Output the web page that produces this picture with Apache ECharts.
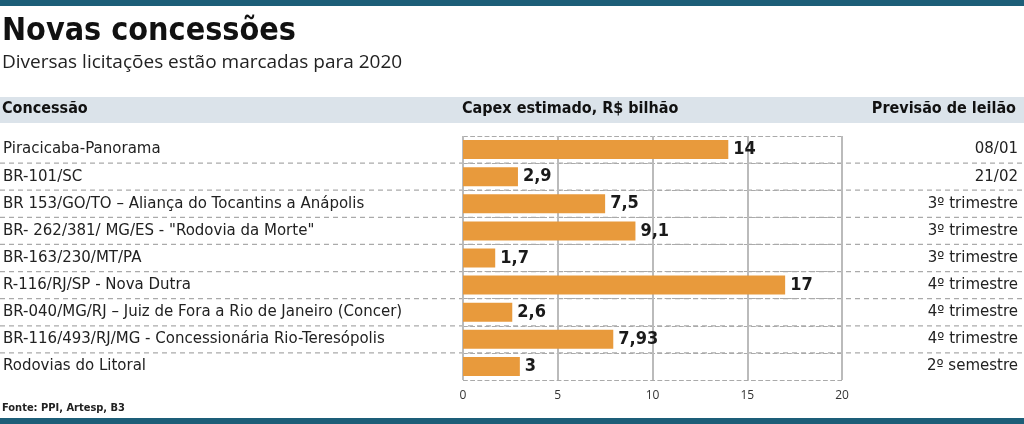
<!DOCTYPE html><html><head><meta charset="utf-8"><script src="https://cdn.jsdelivr.net/npm/echarts@6/dist/echarts.min.js"></script>
<style>body{margin:0}#c{width:1024px;height:424px}</style></head><body><div id="c"></div><script>
const categories=["Piracicaba-Panorama","BR-101/SC","BR 153/GO/TO – Aliança do Tocantins a Anápolis","BR- 262/381/ MG/ES - \"Rodovia da Morte\"","BR-163/230/MT/PA","R-116/RJ/SP - Nova Dutra","BR-040/MG/RJ – Juiz de Fora a Rio de Janeiro (Concer)","BR-116/493/RJ/MG - Concessionária Rio-Teresópolis","Rodovias do Litoral"];
const values=[14,2.9,7.5,9.1,1.7,17,2.6,7.93,3];
const valueLabels=["14","2,9","7,5","9,1","1,7","17","2,6","7,93","3"];
const dates=["08/01","21/02","3º trimestre","3º trimestre","3º trimestre","4º trimestre","4º trimestre","4º trimestre","2º semestre"];
const ticks=[0,5,10,15,20];
const ch=echarts.init(document.getElementById('c'));
const F='"Open Sans", sans-serif';
const D='"DejaVu Sans", sans-serif';
const opt={animation:false,
grid:{left:462,right:182,top:136,bottom:44},
xAxis:{type:'value',min:0,max:20,interval:5,axisLine:{show:false},axisTick:{show:false},
 axisLabel:{color:'#333',fontFamily:F,fontSize:12,margin:10},splitLine:{lineStyle:{color:'#bbb',width:2}}},
yAxis:[{type:'category',inverse:true,data:categories,axisLine:{show:false},axisTick:{show:false},
 axisLabel:{align:'left',margin:460,color:'#222',fontFamily:D,fontSize:15},splitLine:{show:true,lineStyle:{type:'dashed',color:'#aaa',width:1.2}}},
 {type:'category',inverse:true,position:'right',data:dates,axisLine:{show:false},axisTick:{show:false},
 axisLabel:{align:'right',margin:176,color:'#222',fontFamily:D,fontSize:15}}],
series:[{type:'bar',data:values,barWidth:19,itemStyle:{color:'#e89a3c'},
 label:{show:true,position:'right',distance:5,formatter:p=>valueLabels[p.dataIndex],fontFamily:'"DejaVu Sans Condensed",sans-serif',fontWeight:'bold',fontSize:18,color:'#1a1a1a'}}],
graphic:[
 {type:'rect',shape:{x:0,y:0,width:1024,height:6},style:{fill:'#1d5e78'}},
 {type:'rect',shape:{x:0,y:418,width:1024,height:6},style:{fill:'#1d5e78'}},
 {type:'rect',shape:{x:0,y:97,width:1024,height:26},style:{fill:'#dbe3ea'}},
 {type:'text',x:2,y:16,style:{text:'Novas concessões',font:'bold 32px "DejaVu Sans Condensed",sans-serif',fill:'#111'}},
 {type:'text',x:2,y:53,style:{text:'Diversas licitações estão marcadas para 2020',font:'19px '+F,fill:'#222'}},
 {type:'text',x:2,y:101,style:{text:'Concessão',font:'bold 16px "DejaVu Sans Condensed",sans-serif',fill:'#111'}},
 {type:'text',x:462,y:101,style:{text:'Capex estimado, R$ bilhão',font:'bold 16px "DejaVu Sans Condensed",sans-serif',fill:'#111'}},
 {type:'text',x:1016,y:101,style:{text:'Previsão de leilão',align:'right',font:'bold 16px "DejaVu Sans Condensed",sans-serif',fill:'#111'}},
 {type:'text',x:2,y:403,style:{text:'Fonte: PPI, Artesp, B3',font:'bold 11px "DejaVu Sans Condensed",sans-serif',fill:'#222'}}
]};
ch.setOption(opt);
const lines=[];
for(let i=1;i<categories.length;i++){
 const y=(ch.convertToPixel({yAxisIndex:0},categories[i])+ch.convertToPixel({yAxisIndex:0},categories[i-1]))/2;
 lines.push({type:'line',shape:{x1:0,y1:y,x2:1024,y2:y},style:{stroke:'#aaa',lineDash:[5,4],lineWidth:1.2},z:-1});
}
ch.setOption({graphic:opt.graphic.concat(lines)});
</script></body></html>
